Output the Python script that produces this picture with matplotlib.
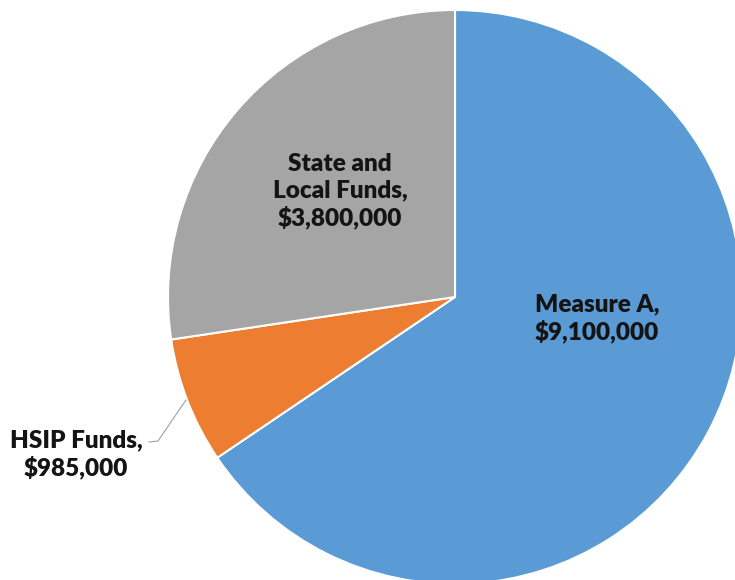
import matplotlib.pyplot as plt

labels = ['Measure A', 'HSIP Funds', 'State and\nLocal Funds']
values = [9100000, 985000, 3800000]
colors = ['#5B9BD5', '#ED7D31', '#A5A5A5']

W, H = 735, 580
cx, cy, r = 455, 580 - 297, 287

fig = plt.figure(figsize=(W / 100, H / 100), dpi=100)
ax = fig.add_axes([0, 0, 1, 1])

wedges, _ = ax.pie(values, colors=colors, startangle=90, counterclock=False,
                   center=(cx, cy), radius=r,
                   wedgeprops=dict(edgecolor='white', linewidth=1.5))
ax.set_xlim(0, W)
ax.set_ylim(0, H)
ax.set_aspect('equal')
ax.axis('off')


def lab(i):
    return labels[i] + ',\n\\$' + format(values[i], ',')


font = dict(family=['Lato', 'DejaVu Sans'], fontweight='heavy', fontsize=17.5,
            color='#141414', ha='center', va='center', linespacing=1.22)

ax.text(597, H - 318, lab(0), **font)
ax.text(340, H - 191, lab(2), **font)
ax.text(76, H - 454, lab(1), **font)

# leader line for the small slice
ax.plot([186, 158, 149], [H - 400, H - 441, H - 442], color='#a0a0a0', lw=0.8)

fig.savefig('out.png', dpi=100)
